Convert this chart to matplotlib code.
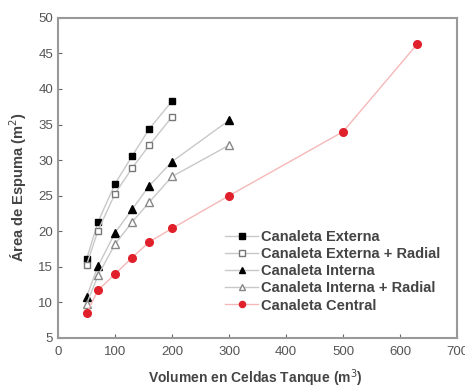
import matplotlib
matplotlib.use("Agg")
import matplotlib.pyplot as plt

plt.rcParams['font.family'] = ['Liberation Sans', 'DejaVu Sans']

x_ext = [50, 70, 100, 130, 160, 200]
y_ext = [16.1, 21.3, 26.7, 30.6, 34.4, 38.3]
y_ext_rad = [15.3, 20.1, 25.3, 28.9, 32.1, 36.1]

x_int = [50, 70, 100, 130, 160, 200, 300]
y_int = [10.8, 15.1, 19.8, 23.1, 26.4, 29.8, 35.6]
y_int_rad = [9.8, 13.8, 18.2, 21.3, 24.1, 27.7, 32.1]

x_cen = [50, 70, 100, 130, 160, 200, 300, 500, 630]
y_cen = [8.5, 11.7, 14.0, 16.3, 18.5, 20.4, 25.0, 34.0, 46.3]

xticks = [0, 100, 200, 300, 400, 500, 600, 700]
yticks = [5, 10, 15, 20, 25, 30, 35, 40, 45, 50]

fig = plt.figure(figsize=(4.65, 3.88), dpi=100)
ax = fig.add_axes([0.125, 0.129, 0.858, 0.825])

lc = '#c8c8c8'
ax.plot(x_ext, y_ext, '-', color=lc, lw=1, marker='s', ms=5, mfc='black', mec='black', label='Canaleta Externa')
ax.plot(x_ext, y_ext_rad, '-', color=lc, lw=1, marker='s', ms=5, mfc='white', mec='#777777', label='Canaleta Externa + Radial')
ax.plot(x_int, y_int, '-', color=lc, lw=1, marker='^', ms=5.5, mfc='black', mec='black', label='Canaleta Interna')
ax.plot(x_int, y_int_rad, '-', color=lc, lw=1, marker='^', ms=5.5, mfc='white', mec='#888888', label='Canaleta Interna + Radial')
ax.plot(x_cen, y_cen, '-', color='#f5b8b8', lw=1, marker='o', ms=5.5, mfc='#e0202a', mec='#e0202a', label='Canaleta Central')

ax.set_xlim(0, 700)
ax.set_ylim(5, 50)
ax.set_xticks(xticks)
ax.set_yticks(yticks)
ax.tick_params(axis='x', pad=6)
ax.tick_params(direction='in', length=3, labelsize=9.5, colors='#666666', labelcolor='#555555')
for s in ax.spines.values():
    s.set_color('#999999')
    s.set_linewidth(1.5)

ax.set_xlabel('Volumen en Celdas Tanque (m$^3$)', fontsize=10, fontweight='bold', color='#444444')
ax.xaxis.set_label_coords(0.495, -0.093)
ax.set_ylabel('Área de Espuma (m$^2$)', fontsize=10.5, fontweight='bold', color='#444444')
ax.yaxis.set_label_coords(-0.072, 0.472)

leg = ax.legend(loc='upper left', bbox_to_anchor=(0.418, 0.338), frameon=False,
                prop={'size': 10.5, 'weight': 'bold'}, borderpad=0, borderaxespad=0,
                handlelength=2.3, labelspacing=0.22, handletextpad=0.2, markerscale=0.8)
for t in leg.get_texts():
    t.set_color('#444444')

fig.savefig('out.png', dpi=100)
